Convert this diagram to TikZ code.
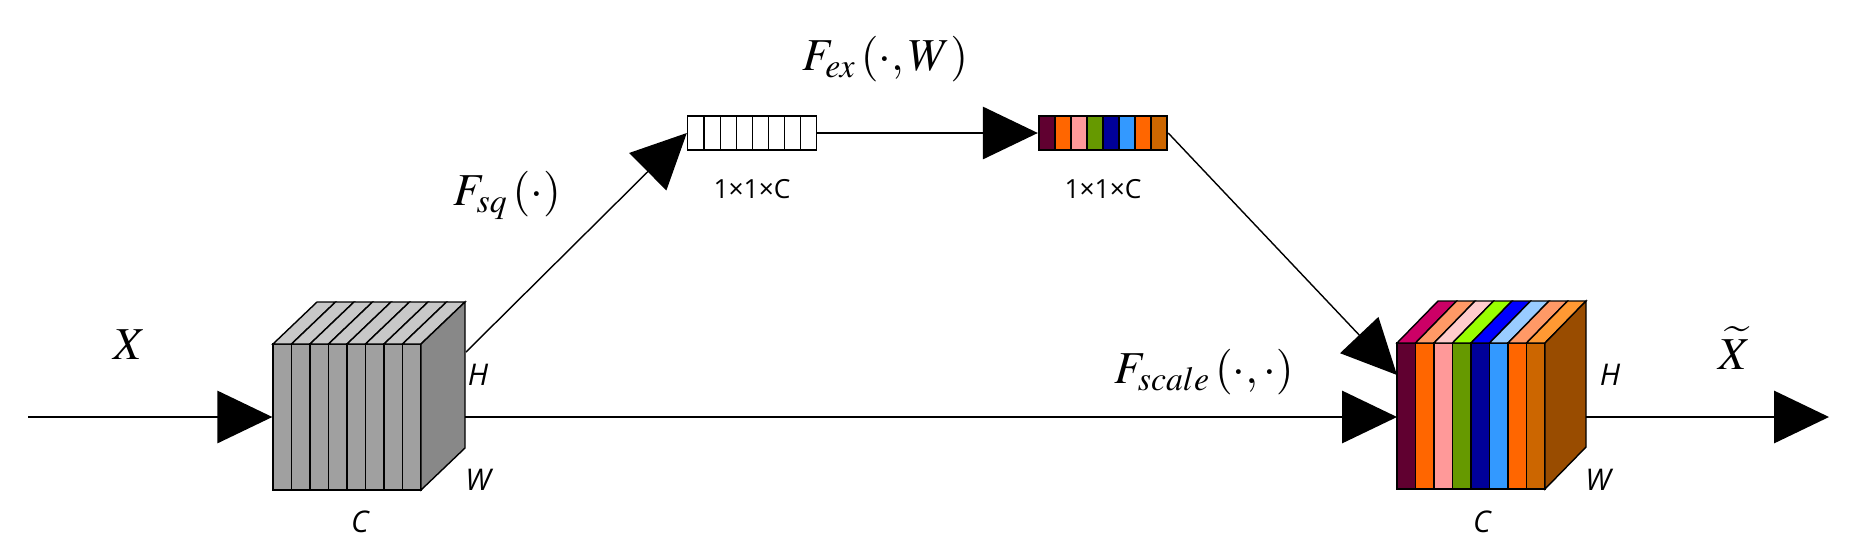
\documentclass[tikz,border=0pt]{standalone}
\usepackage{fontspec}
\setsansfont{Open Sans}
\usepackage{mathptmx}
\usetikzlibrary{arrows.meta}

\definecolor{grayfront}{HTML}{A0A0A0}
\definecolor{graytop}{HTML}{C8C8C8}
\definecolor{grayside}{HTML}{888888}
\definecolor{cA}{HTML}{600030}\definecolor{tA}{HTML}{CC0066}
\definecolor{cB}{HTML}{FF6600}\definecolor{tB}{HTML}{FF9966}
\definecolor{cC}{HTML}{FF9999}\definecolor{tC}{HTML}{FFCCCC}
\definecolor{cD}{HTML}{669900}\definecolor{tD}{HTML}{99FF00}
\definecolor{cE}{HTML}{000099}\definecolor{tE}{HTML}{0000FF}
\definecolor{cF}{HTML}{3399FF}\definecolor{tF}{HTML}{99CCFF}
\definecolor{cG}{HTML}{FF6600}\definecolor{tG}{HTML}{FF9966}
\definecolor{cH}{HTML}{CC6600}\definecolor{tH}{HTML}{FF9933}
\definecolor{sideout}{HTML}{994C00}

\begin{document}
\begin{tikzpicture}[
    x=0.02cm, y=-0.02cm,
    line width=0.8pt,
    cube/.style={rectangle, minimum width=2.96cm, minimum height=2.92cm, inner sep=0pt},
    bar/.style={rectangle, draw, minimum width=2.58cm, minimum height=0.68cm, inner sep=0pt},
    arrow/.style={-{Triangle[length=1.1cm,width=1.05cm]}, line width=0.8pt},
    mathlbl/.style={font=\fontsize{26}{30}\selectfont},
    dimlbl/.style={font=\sffamily\itshape\fontsize{17}{20}\selectfont},
    sizelbl/.style={font=\sffamily\fontsize{15}{18}\selectfont}
]
\useasboundingbox (0,0) rectangle (1849,558);

% Input cube X
\node[cube] (cubeX) at (347,417) {};
\foreach \i in {0,...,7} {
  \filldraw[fill=grayfront] (273+\i*18.5,344) rectangle ++(18.5,146);
  \filldraw[fill=graytop] (273+\i*18.5,344) -- ++(18.5,0) -- ++(44,-42) -- ++(-18.5,0) -- cycle;
}
\filldraw[fill=grayside] (421,344) -- (465,302) -- (465,448) -- (421,490) -- cycle;
\node[dimlbl] (hX) at (478,375) {H};
\node[dimlbl] (wX) at (478,480) {W};
\node[dimlbl] (cX) at (360,522) {C};

% Output cube
\node[cube] (cubeY) at (1471,416) {};
\foreach \f/\t [count=\i from 0] in {cA/tA,cB/tB,cC/tC,cD/tD,cE/tE,cF/tF,cG/tG,cH/tH} {
  \filldraw[fill=\f] (1397+\i*18.5,343) rectangle ++(18.5,146);
  \filldraw[fill=\t] (1397+\i*18.5,343) -- ++(18.5,0) -- ++(41,-42) -- ++(-18.5,0) -- cycle;
}
\filldraw[fill=sideout] (1545,343) -- (1586,301) -- (1586,447) -- (1545,489) -- cycle;
\node[dimlbl] (hY) at (1610,375) {H};
\node[dimlbl] (wY) at (1598,480) {W};
\node[dimlbl] (cY) at (1482,522) {C};

% Squeeze and excitation vectors
\node[bar] (sq) at (752,133) {};
\foreach \i in {1,...,7} \draw (688+\i*16.1,116) -- (688+\i*16.1,150);
\node[bar] (ex) at (1103,133) {};
\foreach \f [count=\i from 0] in {cA,cB,cC,cD,cE,cF,cG,cH}
  \filldraw[fill=\f] (1039+\i*16,116) rectangle ++(16,34);
\node[sizelbl] (sqsize) at (752,189) {1×1×C};
\node[sizelbl] (exsize) at (1103,189) {1×1×C};

% Connector ends
\coordinate (xin) at (28,417);
\coordinate (xside) at (465,417);
\coordinate (xcorner) at (466,352);
\coordinate (yin) at (1397,417);
\coordinate (ytop) at (1397,375);
\coordinate (yside) at (1586,417);
\coordinate (yout) at (1829,417);

% Arrows
\draw[arrow] (xin) -- (cubeX.west);
\draw[arrow] (xcorner) -- (sq.west);
\draw[arrow] (sq.east) -- (ex.west);
\draw[arrow] (ex.east) -- (ytop);
\draw[arrow] (xside) -- (yin);
\draw[arrow] (yside) -- (yout);

% Labels
\node[mathlbl] (lX) at (130,345) {$X$};
\node[mathlbl] (lsq) at (507,195) {$F_{sq}\left(\cdot\right)$};
\node[mathlbl] (lex) at (885,59) {$F_{ex}\left(\cdot,W\right)$};
\node[mathlbl] (lscale) at (1204,372) {$F_{scale}\left(\cdot,\cdot\right)$};
\node[mathlbl] (lY) at (1735,348) {$\widetilde{X}$};
\end{tikzpicture}
\end{document}
